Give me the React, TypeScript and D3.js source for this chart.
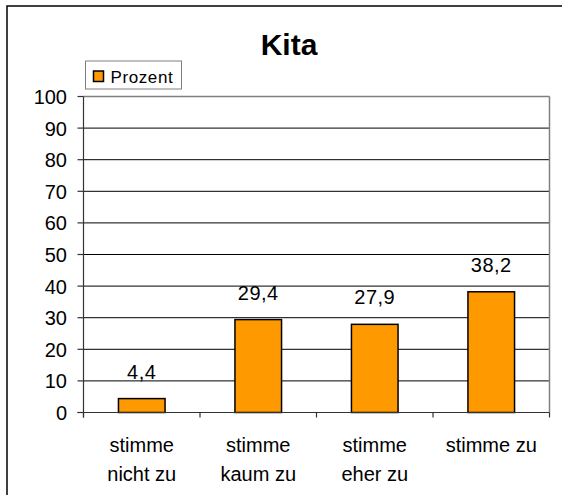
import React from "react";
import * as d3 from "d3";

const title = "Kita";
const seriesName = "Prozent";
const categories = ["stimme nicht zu", "stimme kaum zu", "stimme eher zu", "stimme zu"];
const categoryLines = [["stimme", "nicht zu"], ["stimme", "kaum zu"], ["stimme", "eher zu"], ["stimme zu"]];
const values = [4.4, 29.4, 27.9, 38.2];
const valueLabels = ["4,4", "29,4", "27,9", "38,2"];
const yTicks = [0, 10, 20, 30, 40, 50, 60, 70, 80, 90, 100];

const W = 562;
const H = 495;
const plot = { left: 83.5, right: 549.5, top: 96.5, bottom: 412.5 };
const FONT = "Arial, 'Liberation Sans', sans-serif";
const ORANGE = "#FF9900";

export default function App() {
  const y = d3.scaleLinear().domain([0, 100]).range([plot.bottom, plot.top]);
  const x = d3
    .scaleBand<string>()
    .domain(categories)
    .range([plot.left, plot.right])
    .paddingInner(0.6)
    .paddingOuter(0.3);
  const step = (plot.right - plot.left) / categories.length;
  const boundaries = d3.range(categories.length + 1).map((i) => plot.left + i * step);

  return (
    <svg
      width={W}
      height={H}
      style={{ position: "absolute", left: 0, top: 0, background: "#fff" }}
      fontFamily={FONT}
    >
      <rect x={0} y={0} width={W} height={H} fill="#fff" />
      {/* outer frame */}
      <rect x={7} y={6} width={W + 20} height={H + 20} fill="none" stroke="#000" strokeWidth={1.5} />

      {/* title */}
      <text x={289} y={55} textAnchor="middle" fontSize={30} fontWeight="bold" fill="#000">
        {title}
      </text>

      {/* legend */}
      <rect x={85.5} y={61} width={96} height={28} fill="#fff" stroke="#808080" strokeWidth={1} />
      <rect x={93.5} y={71} width={10} height={10.5} fill={ORANGE} stroke="#000" strokeWidth={1.5} />
      <text x={110.5} y={82.5} fontSize={17} letterSpacing={0.6} fill="#000">
        {seriesName}
      </text>

      {/* gridlines */}
      {yTicks
        .filter((t) => t > 0 && t < 100)
        .map((t) => (
          <line key={t} x1={plot.left} x2={plot.right} y1={y(t)} y2={y(t)} stroke="#000" strokeWidth={1} />
        ))}
      {/* plot border top/right */}
      <line x1={plot.left} x2={plot.right} y1={y(100)} y2={y(100)} stroke="#808080" strokeWidth={1.5} />
      <line x1={plot.right} x2={plot.right} y1={plot.top} y2={plot.bottom} stroke="#808080" strokeWidth={1.5} />

      {/* bars */}
      {categories.map((c, i) => (
        <rect
          key={c}
          x={x(c)}
          y={y(values[i])}
          width={x.bandwidth()}
          height={y(0) - y(values[i])}
          fill={ORANGE}
          stroke="#000"
          strokeWidth={1.5}
        />
      ))}

      {/* axes */}
      <line x1={plot.left} x2={plot.left} y1={plot.top} y2={plot.bottom + 5} stroke="#333" strokeWidth={1.2} />
      <line x1={plot.left - 6} x2={plot.right} y1={plot.bottom} y2={plot.bottom} stroke="#333" strokeWidth={1.2} />
      {yTicks.map((t) => (
        <g key={t}>
          <line x1={plot.left - 6} x2={plot.left} y1={y(t)} y2={y(t)} stroke="#333" strokeWidth={1.2} />
          <text x={67} y={y(t) + 7.5} textAnchor="end" fontSize={20} fill="#000">
            {t}
          </text>
        </g>
      ))}
      {boundaries.map((b, i) => (
        <line key={i} x1={b} x2={b} y1={plot.bottom} y2={plot.bottom + 5} stroke="#333" strokeWidth={1.2} />
      ))}

      {/* value labels */}
      {categories.map((c, i) => (
        <text
          key={c}
          x={(x(c) as number) + x.bandwidth() / 2}
          y={y(values[i]) - 20}
          textAnchor="middle"
          fontSize={20}
          letterSpacing={0.5}
          fill="#000"
        >
          {valueLabels[i]}
        </text>
      ))}

      {/* category labels */}
      {categories.map((c, i) => (
        <text
          key={c}
          x={(x(c) as number) + x.bandwidth() / 2}
          y={451.5}
          textAnchor="middle"
          fontSize={20}
          fill="#000"
        >
          {categoryLines[i].map((ln, j) => (
            <tspan key={j} x={(x(c) as number) + x.bandwidth() / 2} dy={j === 0 ? 0 : 29}>
              {ln}
            </tspan>
          ))}
        </text>
      ))}
    </svg>
  );
}
